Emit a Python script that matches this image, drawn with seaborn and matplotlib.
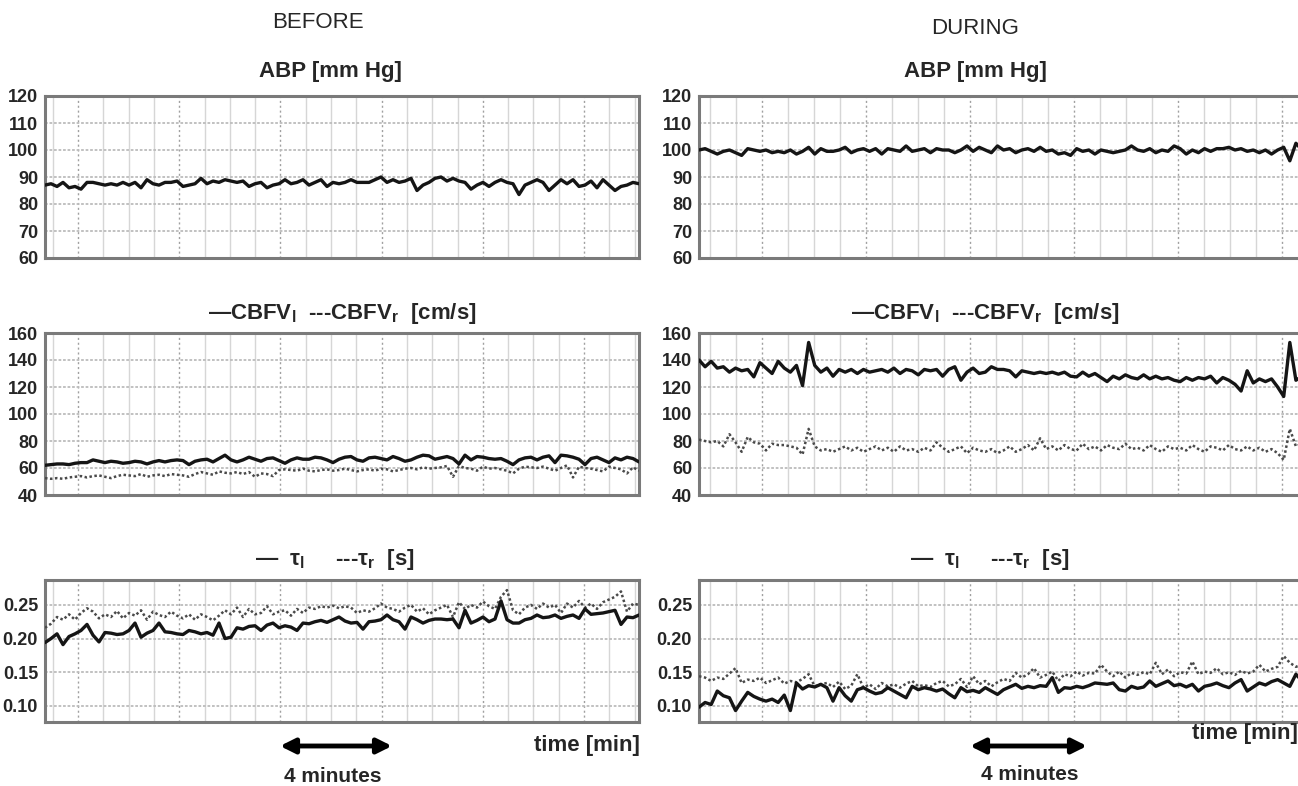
import numpy as np
import pandas as pd
import seaborn as sns
import matplotlib.pyplot as plt
from matplotlib import font_manager

# ABP [mm Hg]
abp_before = [87, 87.5, 86.5, 88, 86, 86.5, 85.5, 88, 88, 87.5, 87,
              87.5, 87, 88, 87, 88, 86, 89, 87.5, 87, 88,
              88, 88.5, 86.5, 87, 87.5, 89.5, 87.5, 88.5, 88, 89,
              88.5, 88, 88.5, 86.5, 87.5, 88, 86, 87, 87.5, 89,
              87.5, 88, 89, 87, 88, 89, 86.5, 88, 87.5, 88,
              89, 88, 88, 88, 89, 90, 88, 89, 88, 88.5,
              89.5, 85, 87, 88, 89.5, 90, 88.5, 89.5, 88.5, 88,
              85.5, 87, 88, 86.5, 88, 89, 88, 87.5, 83.5, 87,
              88, 89, 88, 85, 87, 89, 87.5, 89, 86.5, 87,
              88.5, 86, 89, 87, 85, 86.5, 87, 88, 87.5]
abp_during = [100, 100.5, 99.5, 98.5, 99.5, 100, 99, 98, 100.5, 100,
              99.5, 100, 99, 99.5, 99, 100, 98.5, 99.5, 101, 98.5,
              100.5, 99.5, 99.5, 100, 101, 99, 100, 100.5, 99.5, 100.5,
              98.5, 100.5, 100, 99.5, 101.5, 99.5, 100, 100.5, 99, 100.5,
              100, 100, 99, 100, 101.5, 99.5, 101, 100, 99, 101.5,
              100, 100.5, 99, 100, 100.5, 99.5, 101, 99.5, 100, 98.5,
              99, 98, 100.5, 99.5, 100, 98.5, 100, 99.5, 99, 99.5,
              100, 101.5, 100, 99.5, 100.5, 99, 100, 99.5, 101.5, 100.5,
              98.5, 100, 99, 100.5, 99.5, 100.5, 100.5, 101, 100, 100.5,
              99.5, 100, 99, 100, 98.5, 100, 101, 96, 102.5, 100]

# CBFV [cm/s], left (solid) and right (dotted)
cbfv_l_before = [62, 62.5, 63, 63, 62.5, 63.5, 64, 64, 66, 65,
                 64, 65, 64.5, 63.5, 64, 65, 64.5, 63, 64.5, 65.5,
                 64.5, 65.5, 66, 65.5, 62.5, 65, 66, 66.5, 64.5, 67,
                 69.5, 66, 64.5, 66, 68, 66.5, 65, 67, 67.5, 65.5,
                 63.5, 66, 67.5, 66.5, 66.5, 68, 67.5, 66, 64, 66.5,
                 68, 68.5, 66, 65, 67.5, 68, 67, 66, 68.5, 67,
                 65, 66, 68, 69.5, 69, 66.5, 67.5, 68.5, 67, 63,
                 69.5, 66, 68.5, 68, 67, 66.5, 67, 65, 62.5, 66,
                 67.5, 68, 66, 68, 69, 64, 69.5, 69, 68, 66.5,
                 62.5, 67, 68, 66, 64, 67.5, 66, 68, 67, 64.5]
cbfv_r_before = [52.5, 52, 52.5, 52, 53, 53.5, 54, 53, 54, 54.5,
                 53.5, 52.5, 54, 55, 54.5, 54, 55.5, 53.5, 54.5, 55,
                 54, 55.5, 55, 54.5, 53.5, 55.5, 57, 56, 55, 57.5,
                 56.5, 56, 57, 55.5, 57, 53.5, 56, 55.5, 54, 58.5,
                 59, 58.5, 58, 59.5, 58, 57.5, 58.5, 59, 58, 58.5,
                 59.5, 58.5, 57.5, 58.5, 59, 58, 59.5, 59, 57.5, 58.5,
                 59.5, 60, 59, 60.5, 59.5, 60, 60.5, 61.5, 53.5, 61.5,
                 60, 59.5, 58, 61, 59.5, 60, 59, 58, 56, 59.5,
                 61, 60.5, 60, 61, 59.5, 58, 60, 62, 53, 61,
                 60, 59.5, 58.5, 57.5, 61, 60, 59, 56, 60.5, 58]
cbfv_l_during = [140, 135, 139, 134, 135, 131, 134, 132, 133, 127.5,
                 138, 134, 130, 139, 134, 131, 136, 121, 153, 136,
                 131, 134, 128, 133, 131, 133, 130, 133, 131, 132,
                 133, 131, 134, 130, 133, 132, 129, 133, 132, 133,
                 128, 133, 135, 125, 131, 134, 130, 131, 135, 133,
                 133, 132, 127.5, 132, 131, 130, 131, 130, 131, 129.5,
                 131, 128, 127.5, 131, 128, 130, 127, 124, 128, 126,
                 129, 127, 126, 129, 126, 128, 126, 127, 125, 124,
                 127, 125, 127, 126, 128, 123, 127, 125, 122, 117,
                 132, 123, 126, 124, 126, 120, 113, 153, 125, 128]
cbfv_r_during = [81, 80, 79, 80, 76, 85, 79, 72, 83, 79,
                 78, 73, 78, 77, 77, 76, 75, 70, 89, 76,
                 73, 74, 72, 74, 76, 73, 75, 72, 74, 76,
                 73, 75, 72, 76, 73, 74, 72, 75, 73, 79,
                 75, 72, 74, 76, 71, 75, 73, 72, 74, 71,
                 73, 76, 72, 74, 77, 73, 82, 74, 76, 73,
                 77, 74, 73, 78, 74, 76, 73, 77, 75, 74,
                 78, 74, 75, 73, 77, 74, 72, 76, 74, 75,
                 73, 77, 74, 72, 76, 75, 73, 77, 74, 73,
                 76, 73, 75, 72, 74, 71, 66, 89, 76, 78]

# tau [s]
tau_l_before = [0.194, 0.200, 0.207, 0.191, 0.203, 0.207, 0.212, 0.221, 0.205, 0.195,
                0.209, 0.208, 0.206, 0.207, 0.212, 0.223, 0.202, 0.208, 0.212, 0.223,
                0.210, 0.209, 0.207, 0.206, 0.212, 0.210, 0.207, 0.209, 0.205, 0.223,
                0.200, 0.202, 0.216, 0.214, 0.218, 0.219, 0.212, 0.220, 0.223, 0.216,
                0.219, 0.217, 0.212, 0.223, 0.222, 0.225, 0.227, 0.224, 0.228, 0.232,
                0.226, 0.223, 0.224, 0.214, 0.225, 0.226, 0.228, 0.235, 0.228, 0.225,
                0.214, 0.232, 0.228, 0.223, 0.227, 0.229, 0.229, 0.228, 0.229, 0.216,
                0.242, 0.223, 0.227, 0.232, 0.225, 0.229, 0.256, 0.228, 0.223, 0.223,
                0.228, 0.230, 0.235, 0.231, 0.232, 0.235, 0.230, 0.233, 0.235, 0.230,
                0.244, 0.236, 0.237, 0.238, 0.240, 0.242, 0.221, 0.232, 0.231, 0.235]
tau_r_before = [0.216, 0.222, 0.232, 0.228, 0.236, 0.228, 0.238, 0.245, 0.240, 0.230,
                0.236, 0.232, 0.241, 0.230, 0.238, 0.234, 0.242, 0.228, 0.240, 0.235,
                0.232, 0.240, 0.234, 0.230, 0.236, 0.228, 0.236, 0.232, 0.227, 0.234,
                0.242, 0.236, 0.246, 0.232, 0.244, 0.236, 0.238, 0.248, 0.236, 0.240,
                0.242, 0.234, 0.244, 0.238, 0.246, 0.244, 0.248, 0.246, 0.249, 0.245,
                0.248, 0.246, 0.238, 0.242, 0.240, 0.245, 0.252, 0.246, 0.244, 0.240,
                0.246, 0.250, 0.240, 0.245, 0.236, 0.242, 0.246, 0.250, 0.232, 0.254,
                0.244, 0.250, 0.246, 0.255, 0.248, 0.244, 0.262, 0.272, 0.242, 0.236,
                0.246, 0.250, 0.244, 0.252, 0.246, 0.250, 0.238, 0.252, 0.246, 0.256,
                0.246, 0.252, 0.244, 0.254, 0.258, 0.262, 0.270, 0.240, 0.252, 0.250]
tau_l_during = [0.098, 0.105, 0.102, 0.122, 0.115, 0.112, 0.093, 0.107, 0.120, 0.114,
                0.110, 0.107, 0.110, 0.105, 0.116, 0.093, 0.134, 0.125, 0.130, 0.128,
                0.132, 0.127, 0.107, 0.127, 0.115, 0.107, 0.124, 0.127, 0.122, 0.118,
                0.120, 0.127, 0.122, 0.117, 0.112, 0.129, 0.124, 0.127, 0.125, 0.122,
                0.125, 0.118, 0.112, 0.127, 0.121, 0.123, 0.120, 0.127, 0.122, 0.117,
                0.124, 0.128, 0.132, 0.126, 0.129, 0.127, 0.130, 0.129, 0.142, 0.120,
                0.127, 0.126, 0.129, 0.127, 0.130, 0.134, 0.133, 0.132, 0.134, 0.124,
                0.122, 0.129, 0.126, 0.128, 0.137, 0.129, 0.133, 0.137, 0.130, 0.132,
                0.128, 0.132, 0.122, 0.129, 0.131, 0.134, 0.130, 0.127, 0.134, 0.139,
                0.122, 0.128, 0.134, 0.131, 0.136, 0.139, 0.134, 0.129, 0.147, 0.137]
tau_r_during = [0.144, 0.142, 0.137, 0.142, 0.140, 0.148, 0.156, 0.134, 0.139, 0.137,
                0.142, 0.134, 0.138, 0.142, 0.133, 0.137, 0.135, 0.140, 0.147, 0.129,
                0.132, 0.134, 0.128, 0.136, 0.125, 0.130, 0.147, 0.127, 0.132, 0.125,
                0.134, 0.129, 0.132, 0.127, 0.133, 0.137, 0.129, 0.131, 0.128, 0.134,
                0.137, 0.129, 0.132, 0.140, 0.128, 0.144, 0.132, 0.137, 0.129, 0.135,
                0.140, 0.137, 0.149, 0.142, 0.147, 0.156, 0.142, 0.146, 0.151, 0.137,
                0.147, 0.144, 0.151, 0.145, 0.149, 0.148, 0.161, 0.151, 0.144, 0.151,
                0.142, 0.149, 0.146, 0.150, 0.147, 0.164, 0.147, 0.154, 0.144, 0.150,
                0.148, 0.166, 0.147, 0.151, 0.149, 0.156, 0.147, 0.150, 0.146, 0.152,
                0.148, 0.151, 0.161, 0.151, 0.155, 0.158, 0.174, 0.164, 0.158, 0.161]

abp_ticks = [60, 70, 80, 90, 100, 110, 120]
cbfv_ticks = [40, 60, 80, 100, 120, 140, 160]
tau_ticks = [0.10, 0.15, 0.20, 0.25]

sns.set_style("white")
names = {f.name for f in font_manager.fontManager.ttflist}
fam = 'Liberation Sans Narrow' if 'Liberation Sans Narrow' in names else 'Liberation Sans'
plt.rcParams['font.family'] = [fam, 'DejaVu Sans']
plt.rcParams['mathtext.fontset'] = 'custom'
plt.rcParams['mathtext.rm'] = fam + ':bold'
plt.rcParams['mathtext.it'] = fam + ':bold'
plt.rcParams['mathtext.bf'] = fam + ':bold'

W, H = 1298, 786
fig = plt.figure(figsize=(W / 100, H / 100), dpi=100)


def box(x0, x1, y0, y1):
    return [x0 / W, 1 - y1 / H, (x1 - x0) / W, (y1 - y0) / H]


def panel(rect, series, ylim, yticks, fmt, first_px, dot_k, step_px):
    ax = fig.add_axes(rect)
    for vals, dotted in series:
        d = pd.DataFrame({'t': np.arange(len(vals)), 'v': vals})
        if dotted:
            sns.lineplot(data=d, x='t', y='v', ax=ax, color='#4a4a4a',
                         lw=1.8, linestyle=(0, (1, 1)), zorder=3)
        else:
            sns.lineplot(data=d, x='t', y='v', ax=ax, color='#151515',
                         lw=2.4, zorder=4)
    n = len(series[0][0])
    ax.set_xlim(0, n - 1)
    ax.set_ylim(*ylim)
    ax.set_xlabel('')
    ax.set_ylabel('')
    # gridlines: light solid verticals, dotted every 4th, dotted horizontals
    width_px = rect[2] * W
    to_data = (n - 1) / width_px
    xs = np.arange(first_px, width_px, step_px) * to_data
    for i, xv in enumerate(xs):
        if (i - dot_k) % 4 == 0:
            ax.axvline(xv, color='#a0a0a0', lw=1.0, ls=(0, (1.5, 2)), zorder=1)
        else:
            ax.axvline(xv, color='#d6d6d6', lw=1.0, zorder=1)
    for yv in yticks:
        ax.axhline(yv, color='#bcbcbc', lw=1.3, ls=(0, (1.5, 1)), zorder=1)
    ax.set_xticks([])
    ax.set_yticks(yticks)
    ax.set_yticklabels([fmt.format(v) for v in yticks], fontweight='bold', fontsize=13)
    ax.tick_params(axis='y', length=0, pad=5)
    for s in ax.spines.values():
        s.set_color('#7a7a7a')
        s.set_linewidth(2.2)
    return ax


# left column (BEFORE)
panel(box(45, 639, 96, 258), [(abp_before, False)], (60, 120), abp_ticks, '{:d}', 7.7, 1, 25.3)
panel(box(45, 639, 333, 495), [(cbfv_r_before, True), (cbfv_l_before, False)],
      (40, 160), cbfv_ticks, '{:d}', 7.7, 1, 25.3)
panel(box(45, 639, 580, 722), [(tau_r_before, True), (tau_l_before, False)],
      (0.076, 0.287), tau_ticks, '{:.2f}', 7.7, 1, 25.3)

# right column (DURING), cut at the right edge
panel(box(699, 1302, 96, 258), [(abp_during, False)], (60, 120), abp_ticks, '{:d}', 11, 2, 26)
panel(box(699, 1302, 333, 495), [(cbfv_r_during, True), (cbfv_l_during, False)],
      (40, 160), cbfv_ticks, '{:d}', 11, 2, 26)
panel(box(699, 1302, 580, 722), [(tau_r_during, True), (tau_l_during, False)],
      (0.076, 0.287), tau_ticks, '{:.2f}', 11, 2, 26)


def ftxt(x, y, s, size=15, weight='bold', ha='center'):
    fig.text(x / W, 1 - y / H, s, ha=ha, va='center', fontsize=size, fontweight=weight)


ftxt(318, 22, 'BEFORE', size=16, weight='medium')
ftxt(975, 28, 'DURING', size=16, weight='medium')
ftxt(330, 72, 'ABP [mm Hg]', size=16)
ftxt(975, 72, 'ABP [mm Hg]', size=16)
cbfv_title = r'—CBFV$_\mathregular{l}$  ---CBFV$_\mathregular{r}$  [cm/s]'
ftxt(342, 313, cbfv_title, size=16)
ftxt(985, 313, cbfv_title, size=16)
tau_title = r'—  $\mathregular{τ_l}$     ---$\mathregular{τ_r}$  [s]'
ftxt(335, 560, tau_title, size=16)
ftxt(990, 560, tau_title, size=16)
ftxt(640, 745, 'time [min]', size=16, ha='right')
ftxt(1298, 733, 'time [min]', size=16, ha='right')
ftxt(333, 777, '4 minutes', size=15)
ftxt(1030, 775, '4 minutes', size=15)

for x0, x1 in [(280, 392), (970, 1087)]:
    fig.add_artist(plt.Annotation('', xy=(x1 / W, 1 - 746 / H), xytext=(x0 / W, 1 - 746 / H),
                                  xycoords='figure fraction', textcoords='figure fraction',
                                  arrowprops=dict(arrowstyle='<|-|>', lw=3.5, color='black',
                                                  mutation_scale=22, shrinkA=0, shrinkB=0)))

fig.savefig('out.png', dpi=100)
